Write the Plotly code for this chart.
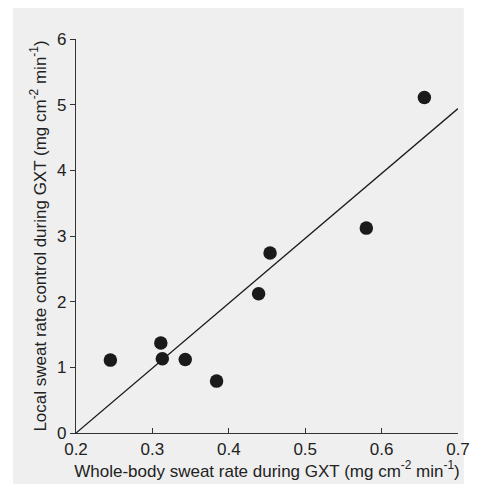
import plotly.graph_objects as go

# Data
whole_body = [0.245, 0.311, 0.313, 0.343, 0.384, 0.439, 0.454, 0.580, 0.656]
local_control = [1.11, 1.37, 1.13, 1.12, 0.79, 2.12, 2.74, 3.12, 5.11]

fit_x = [0.2, 0.7]
fit_y = [0.0, 4.94]

x_ticks = [0.2, 0.3, 0.4, 0.5, 0.6, 0.7]
x_tick_labels = ["0.2", "0.3", "0.4", "0.5", "0.6", "0.7"]
y_ticks = [0, 1, 2, 3, 4, 5, 6]
y_tick_labels = ["0", "1", "2", "3", "4", "5", "6"]

# page has an 8px body margin; keep the figure inside the viewport
W, H = 468, 476
ml, mr, mt, mb = 68, 6, 31, 51
pw, ph = W - ml - mr, H - mt - mb

fig = go.Figure()
fig.add_trace(go.Scatter(x=fit_x, y=fit_y, mode="lines",
                         line=dict(color="#1a1a1a", width=1.3),
                         showlegend=False, hoverinfo="skip"))
fig.add_trace(go.Scatter(x=whole_body, y=local_control, mode="markers",
                         marker=dict(color="#1a1a1a", size=13.5, line=dict(width=0)),
                         showlegend=False))

gray = "#efefef"
fig.add_shape(type="rect", xref="paper", yref="paper", layer="below",
              x0=-(ml - 3) / pw, x1=1 + mr / pw,
              y0=-mb / ph, y1=1 + mt / ph,
              fillcolor=gray, line=dict(width=0))

font_family = "Liberation Sans, Arial, Helvetica, sans-serif"
fig.update_layout(
    width=W, height=H,
    margin=dict(l=ml, r=mr, t=mt, b=mb, pad=0),
    paper_bgcolor="white", plot_bgcolor=gray,
    font=dict(family=font_family, color="#222222", size=17),
    xaxis=dict(range=[0.2, 0.7], tickvals=x_ticks, ticktext=x_tick_labels,
               showgrid=False, zeroline=False, showline=True,
               linecolor="#333333", linewidth=1.2,
               ticks="inside", ticklen=5, tickcolor="#333333", tickwidth=1.2,
               tickfont=dict(size=17), ticklabeloverflow="allow",
               title=dict(text="Whole-body sweat rate during GXT (mg cm<sup>-2</sup> min<sup>-1</sup>)",
                          font=dict(size=17), standoff=4)),
    yaxis=dict(range=[0, 6], tickvals=y_ticks, ticktext=y_tick_labels,
               showgrid=False, zeroline=False, showline=True,
               linecolor="#333333", linewidth=1.2,
               ticks="outside", ticklen=5, tickcolor="#333333", tickwidth=1.2,
               tickfont=dict(size=17),
               title=dict(text="Local sweat rate control during GXT (mg cm<sup>-2</sup> min<sup>-1</sup>)",
                          font=dict(size=17), standoff=6)),
)

fig.write_html("out.html", config={"displayModeBar": False})
